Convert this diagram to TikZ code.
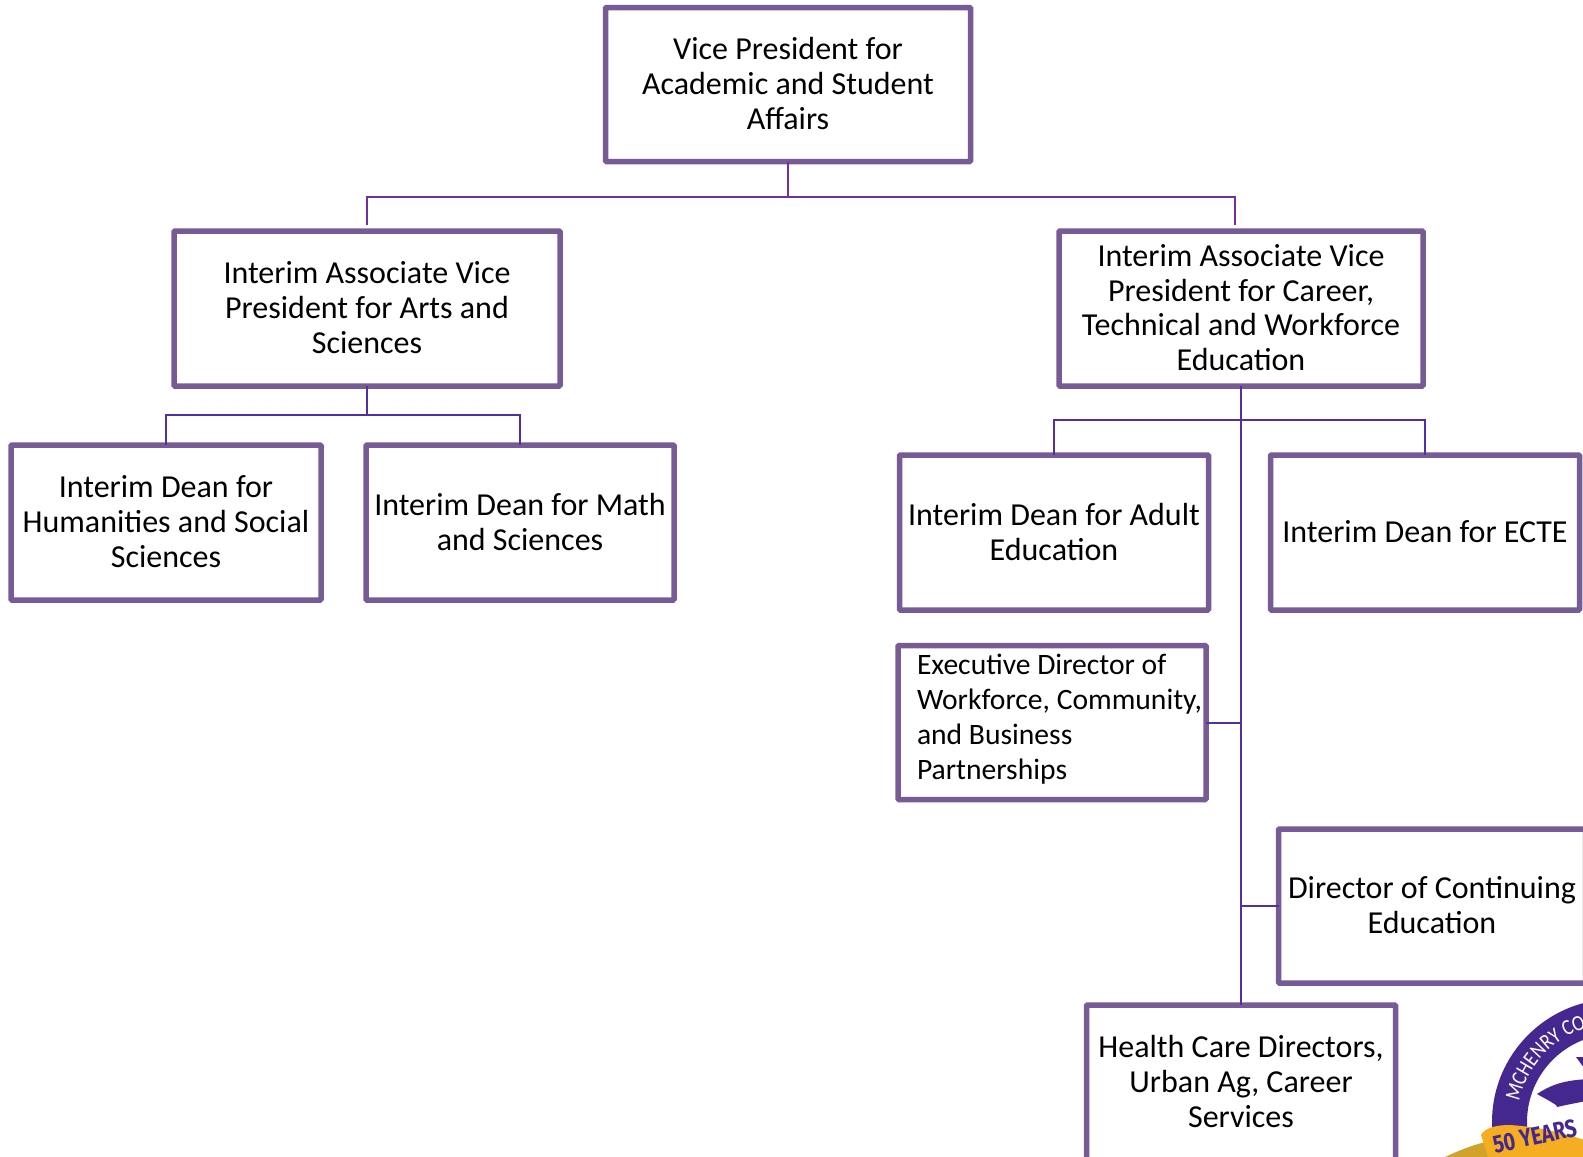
\documentclass[tikz,border=0pt]{standalone}
\usepackage{fontspec}
\setmainfont{Carlito}
\newfontfamily\yearsfont[FakeStretch=0.8]{Fira Sans}
\newfontfamily\ringfont[FakeStretch=0.85]{Carlito}
\usetikzlibrary{decorations.text}
\definecolor{boxpurple}{HTML}{775B95}
\definecolor{topline}{HTML}{7030A0}
\definecolor{trunkline}{HTML}{5230A0}
\definecolor{logopurple}{HTML}{45288F}
\definecolor{logogold}{HTML}{F5AE21}
\definecolor{logodark}{HTML}{D2A32B}
\tikzset{
  orgbase/.style={draw=boxpurple, fill=white, line width=5.5pt, rounded corners=1pt, inner sep=0pt, outer sep=0pt, align=center, font=\fontsize{32}{34.9}\selectfont, text=black},
  orgbox/.style={orgbase, execute at end node={\rule[-2pt]{0pt}{1pt}}},
  orgleft/.style={orgbase, font=\fontsize{29.6}{34.9}\selectfont, execute at end node={\rule[-11pt]{0pt}{1pt}}},
  conn/.style={draw=topline, line width=2pt},
  connb/.style={draw=trunkline, line width=2pt},
}
\newcommand{\execline}[1]{\makebox[308pt][l]{\hspace*{19pt}#1}}
\begin{document}
\begin{tikzpicture}[x=1pt,y=-1pt]
\useasboundingbox (0,0) rectangle (1583,1157);
\clip (0,0) rectangle (1583,1157);

% logo
\fill[logopurple, even odd rule] (1615,1122) circle (123) (1615,1122) circle (88);
\fill[logopurple] (1537,1094) .. controls (1555,1082) and (1570,1080) .. (1590,1079) -- (1590,1100) .. controls (1582,1102) and (1570,1104) .. (1557,1107) -- (1556,1105) .. controls (1550,1101) and (1544,1098) .. (1537,1094) -- cycle;
\fill[logopurple] (1576,1057) -- (1590,1057) -- (1590,1076) -- cycle;
\fill[logodark] (1445,1157) .. controls (1460,1150) and (1475,1144) .. (1490,1141) -- (1500,1157) -- cycle;
\fill[logogold] (1481,1135) .. controls (1485,1128) and (1495,1125) .. (1510,1125) .. controls (1540,1127) and (1565,1133) .. (1590,1142) -- (1590,1157) -- (1488,1157) -- cycle;
\path[postaction={decorate, decoration={text along path, text align={left indent=0pt}, text={|\ringfont\fontsize{22}{22}\selectfont\color{white}|MCHENRY CO}}}]
  (1519.1,1101.6) arc[start angle=192, end angle=285, radius=98];
\node[rotate=12, font=\yearsfont\bfseries\fontsize{25}{25}\selectfont, text=logopurple, inner sep=0pt, anchor=west] (years) at (1493,1145) {50 YEARS};

% boxes
\node[orgbox, minimum width=365pt, minimum height=154pt] (vp) at (788,84.5) {Vice President for\\Academic and Student\\Affairs};
\node[orgbox, minimum width=386pt, minimum height=155pt] (avpa) at (367,308.5) {Interim Associate Vice\\President for Arts and\\Sciences};
\node[orgbox, minimum width=364pt, minimum height=155pt] (avpc) at (1241,308.5) {Interim Associate Vice\\President for Career,\\Technical and Workforce\\Education};
\node[orgbox, minimum width=310pt, minimum height=155pt] (hum) at (166,522.5) {Interim Dean for\\Humanities and Social\\Sciences};
\node[orgbox, minimum width=308pt, minimum height=155pt] (math) at (520,522.5) {Interim Dean for Math\\and Sciences};
\node[orgbox, minimum width=309pt, minimum height=155pt] (adult) at (1054,532.5) {Interim Dean for Adult\\Education};
\node[orgbox, minimum width=309pt, minimum height=155pt] (ecte) at (1425,532.5) {Interim Dean for ECTE};
\node[orgleft, minimum width=308pt, minimum height=154pt] (exec) at (1052,722.5) {\execline{Executive Director of}\\\execline{Workforce, Community,}\\\execline{and Business}\\\execline{Partnerships}};
\node[orgbox, minimum width=307pt, minimum height=154pt] (cont) at (1432,906) {Director of Continuing\\Education};
\node[orgbox, minimum width=309pt, minimum height=155pt] (hc) at (1241,1082.5) {Health Care Directors,\\Urban Ag, Career\\Services};

% connectors
\coordinate (topbus) at (788,197);
\coordinate (leftdrop) at (367,225);
\coordinate (rightdrop) at (1235,225);
\draw[conn] (vp.south) -- (topbus);
\draw[conn] (leftdrop) |- (topbus) -| (rightdrop);
\coordinate (abus) at (367,415);
\draw[connb] (avpa.south) -- (abus);
\draw[connb] (hum.north) |- (abus) -| (math.north);
\coordinate (cbus) at (1241,420);
\draw[connb] (avpc.south) -- (hc.north);
\draw[connb] (adult.north) |- (cbus) -| (ecte.north);
\coordinate (execj) at (1241,722.5);
\coordinate (contj) at (1241,906);
\draw[connb] (exec.east) -- (execj);
\draw[connb] (cont.west) -- (contj);
\end{tikzpicture}
\end{document}
